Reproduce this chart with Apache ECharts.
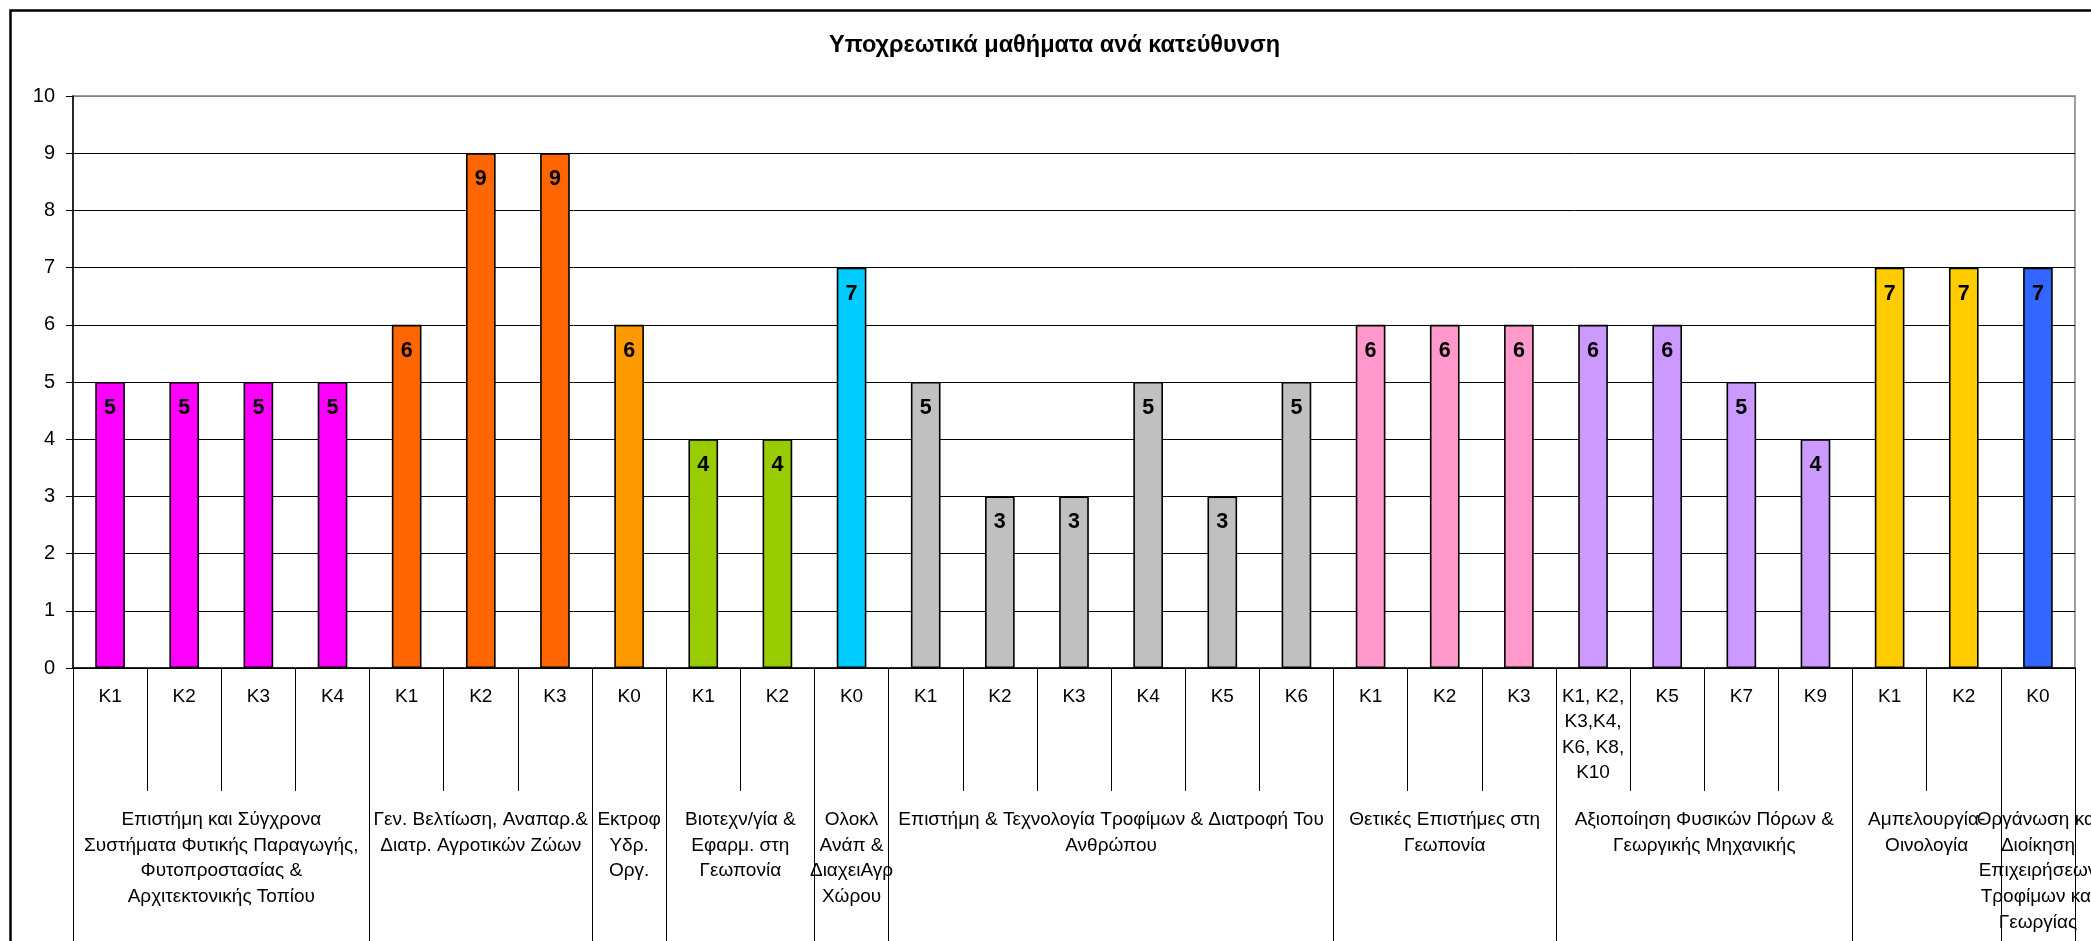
<!DOCTYPE html>
<html>
<head>
<meta charset="utf-8">
<script src="https://cdn.jsdelivr.net/npm/echarts@6/dist/echarts.min.js"></script>
<style>
html,body{margin:0;padding:0;background:#fff;}
#chart{width:2091px;height:941px;}
</style>
</head>
<body>
<div id="chart"></div>
<script>
const titleText = 'Υποχρεωτικά μαθήματα ανά κατεύθυνση';
const categories = ['K1','K2','K3','K4','K1','K2','K3','K0','K1','K2','K0','K1','K2','K3','K4','K5','K6','K1','K2','K3','K1, K2,\nK3,K4,\nK6, K8,\nK10','K5','K7','K9','K1','K2','K0'];
const values = [5,5,5,5,6,9,9,6,4,4,7,5,3,3,5,3,5,6,6,6,6,6,5,4,7,7,7];
const groupNames = [
  'Επιστήμη και Σύγχρονα\nΣυστήματα Φυτικής Παραγωγής,\nΦυτοπροστασίας &\nΑρχιτεκτονικής Τοπίου',
  'Γεν. Βελτίωση, Αναπαρ.&\nΔιατρ. Αγροτικών Ζώων',
  'Εκτροφ\nΥδρ.\nΟργ.',
  'Βιοτεχν/γία &\nΕφαρμ. στη\nΓεωπονία',
  'Ολοκλ\nΑνάπ &\nΔιαχειΑγρ\nΧώρου',
  'Επιστήμη & Τεχνολογία Τροφίμων & Διατροφή Του\nΑνθρώπου',
  'Θετικές Επιστήμες στη\nΓεωπονία',
  'Αξιοποίηση Φυσικών Πόρων &\nΓεωργικής Μηχανικής',
  'Αμπελουργία-\nΟινολογία',
  'Οργάνωση και\nΔιοίκηση\nΕπιχειρήσεων\nΤροφίμων και\nΓεωργίας'
];
const groupSizes = [4,3,1,2,1,6,3,4,2,1];
const yMin = 0, yMax = 10, yStep = 1;

const groupColors = ['#FF00FF','#FF6600','#FF9900','#99CC00','#00CCFF','#C0C0C0','#FF99CC','#CC99FF','#FFCC00','#3366FF'];
const FONT = '"Liberation Sans", Arial, sans-serif';

// group index per category
const catGroup = [];
groupSizes.forEach((n, g) => { for (let i = 0; i < n; i++) catGroup.push(g); });

// half-slot axis for group labels (boundaryGap false, 2 slots per category)
const nSlots = categories.length * 2 + 1;
const slotData = new Array(nSlots).fill('');
const tickSlots = new Set();
const labelSlotsEven = new Set();
const labelSlotsOdd = new Set();
let start = 0;
groupSizes.forEach((n, g) => {
  tickSlots.add(2 * start);
  const c = 2 * start + n;
  slotData[c] = groupNames[g];
  (g % 2 === 0 ? labelSlotsEven : labelSlotsOdd).add(c);
  start += n;
});
tickSlots.add(2 * start);

const barData = values.map((v, i) => ({
  value: v,
  itemStyle: { color: groupColors[catGroup[i]] }
}));

const splitColors = [];
for (let v = yMin; v <= yMax; v += yStep) splitColors.push(v === yMax ? '#808080' : '#000000');

const gridRect = { left: 73, right: 16, top: 96, bottom: 273, outerBoundsMode: 'none', containLabel: false };
const groupLabelStyle = { hideOverlap: false, showMinLabel: true, showMaxLabel: true, margin: 139, fontSize: 19, lineHeight: 25.7, color: '#000', fontFamily: FONT, align: 'center' };

const chart = echarts.init(document.getElementById('chart'), null, {renderer: 'canvas'});
chart.setOption({
  animation: false,
  backgroundColor: '#fff',
  textStyle: { fontFamily: FONT },
  title: {
    text: titleText,
    left: 829,
    top: 34,
    padding: 0,
    textStyle: { fontFamily: FONT, fontSize: 23.5, fontWeight: 'bold', color: '#000' }
  },
  graphic: [{
    type: 'rect',
    left: 8, top: 8,
    shape: { width: 2200, height: 1100 },
    style: { fill: 'none', stroke: '#000', lineWidth: 2.5 },
    z: 100, silent: true
  }],
  grid: [
    Object.assign({ show: true, borderColor: '#808080', borderWidth: 1.5, backgroundColor: '#fff' }, gridRect),
    Object.assign({ show: false }, gridRect),
    Object.assign({ show: false }, gridRect)
  ],
  xAxis: [
    {
      type: 'category', gridIndex: 0, data: categories, position: 'bottom',
      axisLine: { show: true, lineStyle: { color: '#000', width: 1.5 } },
      axisTick: { show: true, interval: 0, length: 123, lineStyle: { color: '#000', width: 1 } },
      axisLabel: { interval: 0, hideOverlap: false, margin: 16, fontSize: 19, lineHeight: 25.5, color: '#000', fontFamily: FONT },
      splitLine: { show: false }
    },
    {
      type: 'category', gridIndex: 1, data: slotData, position: 'bottom', boundaryGap: false,
      axisLine: { show: false },
      axisTick: { show: true, length: 290, interval: (idx) => tickSlots.has(idx), lineStyle: { color: '#000', width: 1 } },
      axisLabel: Object.assign({ interval: (idx) => labelSlotsEven.has(idx) }, groupLabelStyle),
      splitLine: { show: false }
    },
    {
      type: 'category', gridIndex: 2, data: slotData, position: 'bottom', boundaryGap: false,
      axisLine: { show: false },
      axisTick: { show: false },
      axisLabel: Object.assign({ interval: (idx) => labelSlotsOdd.has(idx) }, groupLabelStyle),
      splitLine: { show: false }
    }
  ],
  yAxis: [
    {
      type: 'value', gridIndex: 0, min: yMin, max: yMax, interval: yStep,
      axisLine: { show: true, lineStyle: { color: '#000', width: 1.5 } },
      axisTick: { show: true, length: 7, lineStyle: { color: '#000' } },
      axisLabel: { fontSize: 20, color: '#000', margin: 18, fontFamily: FONT },
      splitLine: { show: true, lineStyle: { color: splitColors, width: 1 } }
    },
    { type: 'value', gridIndex: 1, min: yMin, max: yMax, show: false, splitLine: { show: false } },
    { type: 'value', gridIndex: 2, min: yMin, max: yMax, show: false, splitLine: { show: false } }
  ],
  series: [{
    type: 'bar',
    xAxisIndex: 0, yAxisIndex: 0,
    data: barData,
    barWidth: '40%',
    itemStyle: { borderColor: '#000', borderWidth: 1.6 },
    label: {
      show: true, position: 'insideTop', distance: 15,
      fontSize: 21.5, fontWeight: 'bold', color: '#000', fontFamily: FONT
    },
    z: 3
  }]
});
</script>
</body>
</html>
